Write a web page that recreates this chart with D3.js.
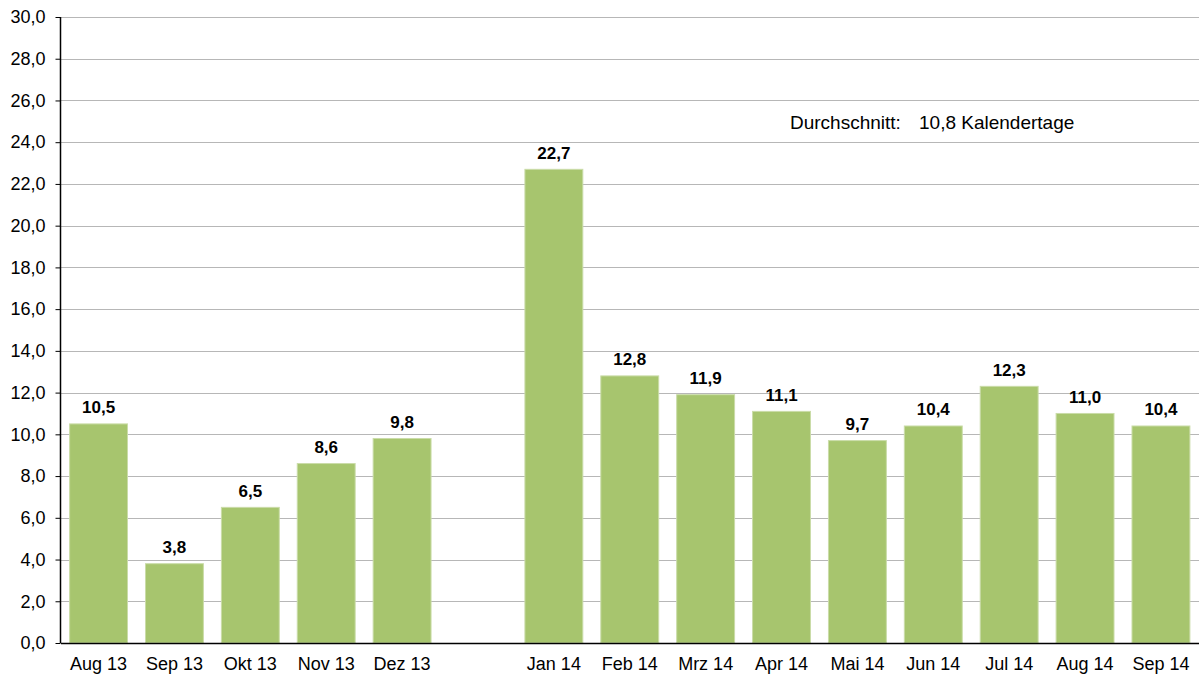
<!DOCTYPE html>
<html>
<head>
<meta charset="utf-8">
<script src="https://cdn.jsdelivr.net/npm/d3@7"></script>
<style>
  body { margin: 0; background: #fff; }
  svg text { font-family: "Liberation Sans", Arial, sans-serif; fill: #000; }
</style>
</head>
<body>
<div id="chart"></div>
<script>
// months, blank slot between Dez 13 and Jan 14
var categories = ["Aug 13", "Sep 13", "Okt 13", "Nov 13", "Dez 13", "",
                  "Jan 14", "Feb 14", "Mrz 14", "Apr 14", "Mai 14", "Jun 14", "Jul 14", "Aug 14", "Sep 14"];
var values = [10.5, 3.8, 6.5, 8.6, 9.8, null, 22.7, 12.8, 11.9, 11.1, 9.7, 10.4, 12.3, 11.0, 10.4];
var yTicks = [0, 2, 4, 6, 8, 10, 12, 14, 16, 18, 20, 22, 24, 26, 28, 30];
var avgLabel = "Durchschnitt:";
var avgValue = "10,8 Kalendertage";

var margin = {top: 17, right: 0, bottom: 35, left: 60.5},
    width = 1199 - margin.left - margin.right,
    height = 678 - margin.top - margin.bottom;

var fmt = function(v) { return d3.format(".1f")(v).replace(".", ","); };

var svg = d3.select("#chart").append("svg")
    .attr("width", 1199).attr("height", 678)
    .append("g")
    .attr("transform", "translate(" + margin.left + "," + margin.top + ")");

var x = d3.scaleBand().domain(d3.range(categories.length)).range([0, width]).paddingInner(0.237).paddingOuter(0.12);
var y = d3.scaleLinear().domain([0, 30]).range([height, 0]);

// gridlines
svg.selectAll(".grid").data(yTicks.filter(function(d) { return d > 0; }))
  .enter().append("line")
    .attr("x1", 0).attr("x2", width)
    .attr("y1", function(d) { return Math.round(y(d)) + 0.5; })
    .attr("y2", function(d) { return Math.round(y(d)) + 0.5; })
    .attr("stroke", "#6e6e6e")
    .attr("stroke-dasharray", "1,1");

// bars
var data = values.map(function(v, i) { return {i: i, v: v}; }).filter(function(d) { return d.v !== null; });
svg.selectAll(".bar").data(data).enter().append("rect")
    .attr("x", function(d) { return x(d.i); })
    .attr("y", function(d) { return y(d.v); })
    .attr("width", x.bandwidth())
    .attr("height", function(d) { return height - y(d.v); })
    .attr("fill", "#a7c56e")
    .attr("stroke", "#cadca8")
    .attr("stroke-width", 1);

// value labels
svg.selectAll(".lbl").data(data).enter().append("text")
    .attr("x", function(d) { return x(d.i) + x.bandwidth() / 2; })
    .attr("y", function(d) { return y(d.v) - 10.5; })
    .attr("text-anchor", "middle")
    .style("font-size", "17px").style("font-weight", "bold")
    .text(function(d) { return fmt(d.v); });

// y axis
var yAxis = svg.append("g")
    .call(d3.axisLeft(y).tickValues(yTicks).tickSize(5).tickPadding(10).tickFormat(fmt));
yAxis.select(".domain").attr("stroke", "#000").attr("stroke-width", 1.5).attr("d", "M0," + height + "V0");
yAxis.selectAll(".tick line").attr("stroke", "#000");
yAxis.selectAll("text").style("font-size", "18px");

// x axis
var xAxis = svg.append("g")
    .attr("transform", "translate(0," + height + ")")
    .call(d3.axisBottom(x).tickSize(0).tickPadding(14).tickFormat(function(i) { return categories[i]; }));
xAxis.select(".domain").attr("stroke", "#000").attr("stroke-width", 1.5);
xAxis.selectAll("text").style("font-size", "18px");

// average annotation
svg.append("text")
    .attr("x", 790 - margin.left).attr("y", 129 - margin.top)
    .style("font-size", "19px")
    .text(avgLabel);
svg.append("text")
    .attr("x", 919 - margin.left).attr("y", 129 - margin.top)
    .style("font-size", "19px")
    .text(avgValue);
</script>
</body>
</html>
